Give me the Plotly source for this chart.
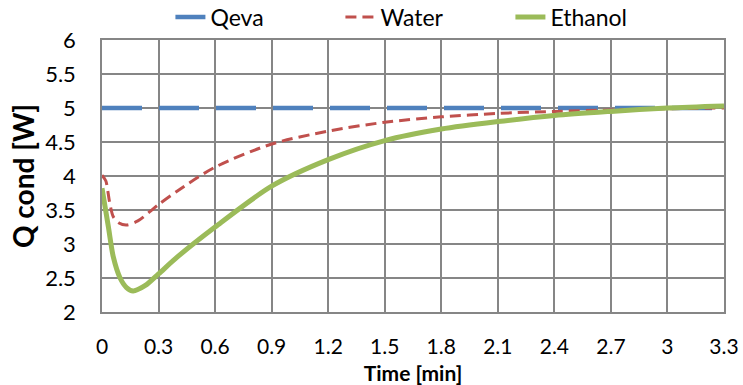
import plotly.graph_objects as go

# Data
qeva_time = [0, 3.3]
qeva_q = [5.0, 5.0]

water_time = [0, 0.02, 0.04, 0.06, 0.09, 0.13, 0.19, 0.3, 0.4, 0.6, 0.9, 1.2, 1.5, 1.8, 2.1, 2.4, 2.7, 3.0, 3.3]
water_q = [4.01, 3.93, 3.62, 3.40, 3.31, 3.28, 3.34, 3.58, 3.78, 4.13, 4.47, 4.66, 4.79, 4.87, 4.92, 4.95, 4.97, 4.99, 5.0]

ethanol_time = [0, 0.034, 0.06, 0.096, 0.13, 0.165, 0.23, 0.3, 0.4, 0.6, 0.9, 1.2, 1.5, 1.8, 2.1, 2.4, 2.7, 3.0, 3.3]
ethanol_q = [3.82, 3.25, 2.81, 2.50, 2.36, 2.31, 2.39, 2.56, 2.81, 3.25, 3.85, 4.24, 4.52, 4.69, 4.80, 4.89, 4.95, 5.0, 5.03]

x_ticks = [0, 0.3, 0.6, 0.9, 1.2, 1.5, 1.8, 2.1, 2.4, 2.7, 3, 3.3]
x_tick_text = ["0", "0.3", "0.6", "0.9", "1.2", "1.5", "1.8", "2.1", "2.4", "2.7", "3", "3.3"]
y_ticks = [2, 2.5, 3, 3.5, 4, 4.5, 5, 5.5, 6]
y_tick_text = ["2", "2.5", "3", "3.5", "4", "4.5", "5", "5.5", "6"]

FONT = "Lato"
GRID = "#868686"

fig = go.Figure()
fig.add_trace(go.Scatter(x=qeva_time, y=qeva_q, name="Qeva", mode="lines",
                         line=dict(color="#4F81BD", width=4.5, dash="40px,17px")))
fig.add_trace(go.Scatter(x=water_time, y=water_q, name="Water", mode="lines",
                         line=dict(color="#C0504D", width=3, dash="11px,6px", shape="spline", smoothing=0.8)))
fig.add_trace(go.Scatter(x=ethanol_time, y=ethanol_q, name="Ethanol", mode="lines",
                         line=dict(color="#9BBB59", width=5, shape="spline", smoothing=0.8)))

fig.update_layout(
    width=743, height=385,
    margin=dict(l=102, r=19, t=40, b=73, autoexpand=False),
    paper_bgcolor="white", plot_bgcolor="white",
    font=dict(family=FONT, size=22, color="black"),
    showlegend=True,
    legend=dict(orientation="h", x=0.11, xanchor="left",
                yref="container", y=1 - 17 / 385, yanchor="middle",
                font=dict(family=FONT, size=23), entrywidth=125,
                bgcolor="rgba(0,0,0,0)"),
)

fig.update_xaxes(
    range=[0, 3.3], tickmode="array", tickvals=x_ticks, ticktext=x_tick_text,
    showgrid=True, gridcolor=GRID, gridwidth=1.5,
    showline=True, linecolor=GRID, linewidth=1.5, mirror=True,
    ticks="", ticklabelstandoff=15, zeroline=False,
    title=dict(text="<b>Time [min]</b>", font=dict(family=FONT, size=21), standoff=16),
    tickfont=dict(family=FONT, size=21),
)
fig.update_yaxes(
    range=[2, 6], tickmode="array", tickvals=y_ticks, ticktext=y_tick_text,
    showgrid=True, gridcolor=GRID, gridwidth=1.5,
    showline=True, linecolor=GRID, linewidth=1.5, mirror=True,
    ticks="", ticklabelstandoff=20, zeroline=False,
    title=dict(text="<b>Q cond [W]</b>", font=dict(family=FONT, size=28), standoff=2),
    tickfont=dict(family=FONT, size=22),
)

fig.write_html("out.html")
